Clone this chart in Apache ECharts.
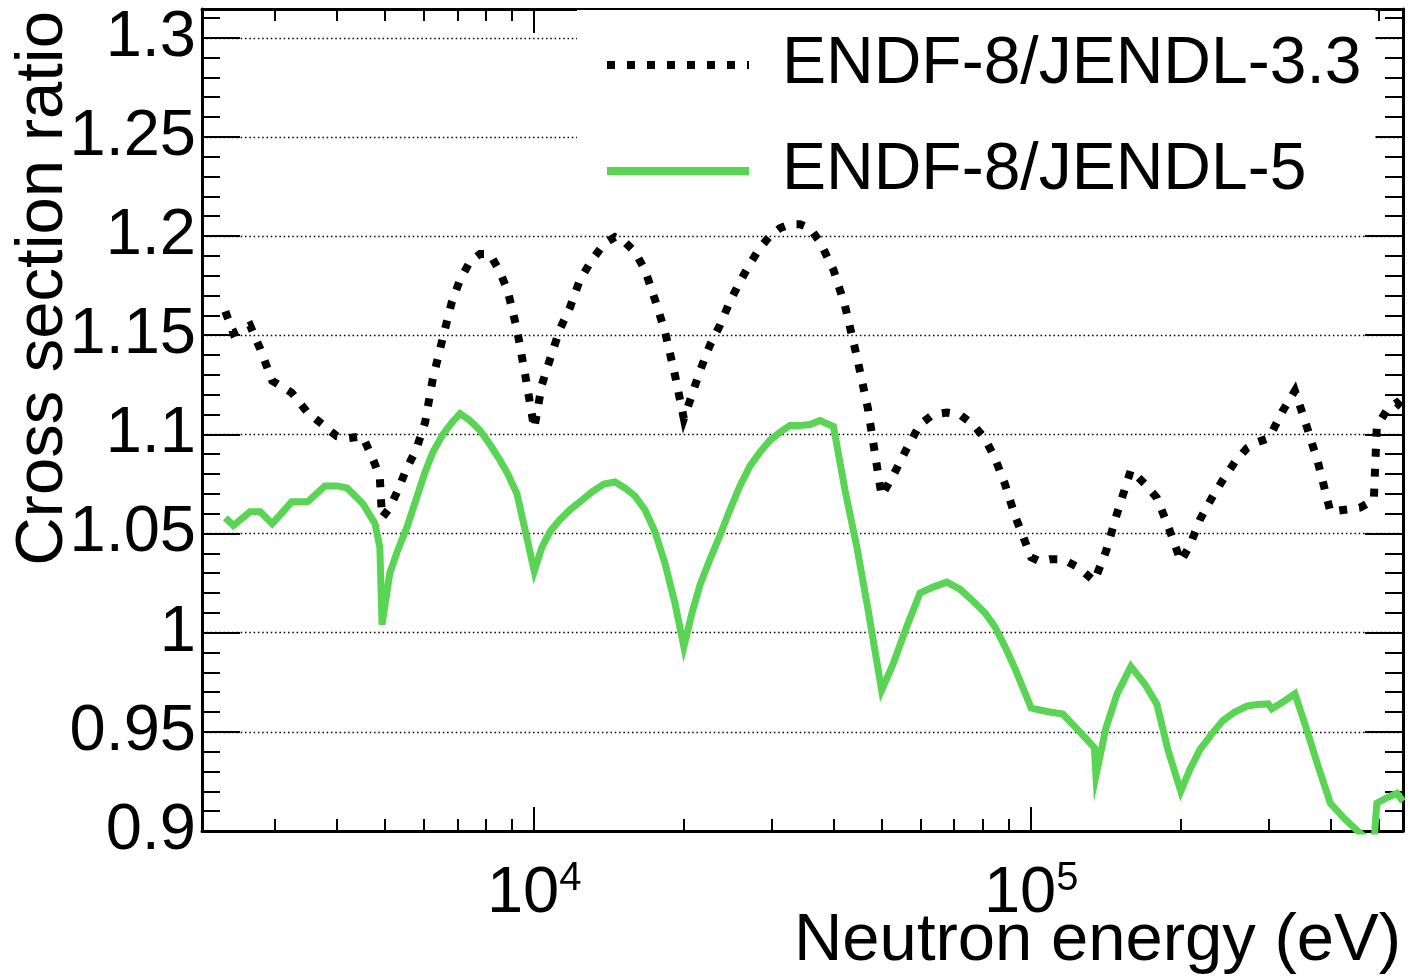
<!DOCTYPE html>
<html>
<head>
<meta charset="utf-8">
<script src="https://cdn.jsdelivr.net/npm/echarts@6/dist/echarts.min.js"></script>
<style>
html,body{margin:0;padding:0;background:#fff;}
#chart{width:1410px;height:978px;}
</style>
</head>
<body>
<div id="chart"></div>
<script>
// ---------------- data ----------------
const energy = [2390, 2480, 2680, 2810, 2970, 3250, 3500, 3790, 4010, 4200, 4520, 4780, 4890, 4940, 5120, 5320, 5540, 5780, 6030, 6250, 6550, 6830, 7090, 7420, 7780, 8140, 8530, 8850, 9230, 9620, 10000, 10360, 10760, 11260, 11800, 12360, 13070, 13810, 14530, 15220, 15940, 16700, 17490, 18320, 19190, 20000, 20770, 21550, 22570, 23640, 24760, 25940, 27160, 28450, 29800, 31220, 32700, 34250, 35870, 37570, 40000, 42190, 44600, 46930, 50000, 52700, 55960, 59730, 63430, 67670, 71880, 76340, 80690, 84530, 88540, 92740, 100000, 104100, 109000, 115800, 124200, 134000, 135000, 141400, 148800, 158700, 169400, 179000, 188400, 200000, 208600, 218500, 231000, 243000, 256900, 271600, 284500, 300000, 305000, 320900, 339300, 355400, 377500, 400000, 427800, 458600, 489200, 496000, 522000, 544200, 560000];

const ratioJendl33 = [1.162, 1.151, 1.155, 1.143, 1.127, 1.121, 1.111, 1.104, 1.099, 1.098, 1.099, 1.085, 1.078, 1.058, 1.063, 1.072, 1.083, 1.092, 1.106, 1.128, 1.149, 1.167, 1.178, 1.187, 1.191, 1.191, 1.182, 1.172, 1.153, 1.128, 1.103, 1.125, 1.138, 1.153, 1.164, 1.178, 1.188, 1.196, 1.1995, 1.197, 1.192, 1.183, 1.168, 1.152, 1.130, 1.108, 1.120, 1.132, 1.145, 1.155, 1.167, 1.177, 1.186, 1.194, 1.200, 1.204, 1.206, 1.206, 1.204, 1.197, 1.183, 1.165, 1.139, 1.113, 1.069, 1.079, 1.092, 1.105, 1.110, 1.111, 1.110, 1.105, 1.098, 1.088, 1.075, 1.059, 1.038, 1.036, 1.037, 1.037, 1.033, 1.026, 1.027, 1.041, 1.060, 1.082, 1.075, 1.068, 1.054, 1.036, 1.044, 1.057, 1.068, 1.077, 1.086, 1.093, 1.096, 1.098, 1.101, 1.112, 1.122, 1.107, 1.086, 1.061, 1.062, 1.063, 1.067, 1.104, 1.113, 1.116, 1.113];

const ratioJendl5 = [1.058, 1.054, 1.061, 1.061, 1.055, 1.066, 1.066, 1.074, 1.074, 1.073, 1.065, 1.055, 1.043, 1.004, 1.030, 1.042, 1.053, 1.067, 1.081, 1.091, 1.100, 1.106, 1.1105, 1.107, 1.102, 1.095, 1.087, 1.080, 1.070, 1.050, 1.031, 1.043, 1.051, 1.057, 1.062, 1.066, 1.071, 1.075, 1.076, 1.073, 1.069, 1.062, 1.051, 1.035, 1.015, 0.993, 1.010, 1.024, 1.037, 1.049, 1.062, 1.074, 1.084, 1.091, 1.097, 1.101, 1.1045, 1.1045, 1.105, 1.107, 1.104, 1.072, 1.043, 1.012, 0.971, 0.984, 1.002, 1.020, 1.023, 1.0255, 1.022, 1.016, 1.010, 1.003, 0.993, 0.982, 0.962, 0.961, 0.960, 0.959, 0.951, 0.942, 0.928, 0.952, 0.969, 0.983, 0.974, 0.964, 0.941, 0.920, 0.931, 0.941, 0.949, 0.9557, 0.960, 0.963, 0.9638, 0.9641, 0.9616, 0.965, 0.9692, 0.954, 0.933, 0.914, 0.906, 0.899, 0.893, 0.914, 0.917, 0.919, 0.915];

const seriesNames = ['ENDF-8/JENDL-3.3', 'ENDF-8/JENDL-5'];
const xRange = [2145, 560000];
const yRange = [0.9, 1.3145];
const yMajorStep = 0.05;
const yMinorStep = 0.01;
const xMinorTickValues = [3000, 4000, 5000, 6000, 7000, 8000, 9000, 20000, 30000, 40000, 50000, 60000, 70000, 80000, 90000, 200000, 300000, 400000, 500000];
const xTitle = 'Neutron energy (eV)';
const yTitle = 'Cross section ratio';

// ---------------- chart ----------------
const FONT = "'Liberation Sans', Arial, Helvetica, sans-serif";
const chart = echarts.init(document.getElementById('chart'), null, {renderer: 'canvas'});

const frameLine = {show: true, onZero: false, lineStyle: {color: '#000', width: 3}};
const tickStyle = {color: '#000', width: 2};
const noLine = {show: false, onZero: false};

function powLabel(v) {
  const e = Math.round(Math.log10(v));
  if (Math.abs(Math.pow(10, e) - v) / v < 1e-6) return '{b|10}{s|' + e + '}';
  return '';
}

const logMinorTicks = xMinorTickValues.map(v => Math.log10(v));

const option = {
  animation: false,
  backgroundColor: '#fff',
  grid: {left: 202, right: 7, top: 9, bottom: 147, containLabel: false},
  xAxis: [
    {
      type: 'log', logBase: 10, min: xRange[0], max: xRange[1], position: 'bottom',
      axisLine: frameLine,
      axisTick: {show: true, inside: true, length: 24, lineStyle: tickStyle},
      minorTick: {show: false}, splitLine: {show: false},
      axisLabel: {
        show: true, margin: 28, showMinLabel: false, showMaxLabel: false,
        formatter: powLabel,
        rich: {
          b: {fontSize: 65, fontFamily: FONT, color: '#000', lineHeight: 70},
          s: {fontSize: 40, fontFamily: FONT, color: '#000', lineHeight: 42, verticalAlign: 'top'}
        }
      }
    },
    {
      type: 'log', logBase: 10, min: xRange[0], max: xRange[1], position: 'top',
      axisLine: frameLine,
      axisTick: {show: true, inside: true, length: 24, lineStyle: tickStyle},
      minorTick: {show: false}, splitLine: {show: false}, axisLabel: {show: false}
    },
    {
      type: 'value', min: Math.log10(xRange[0]), max: Math.log10(xRange[1]), position: 'bottom',
      axisLine: noLine,
      axisTick: {show: true, inside: true, length: 12, lineStyle: tickStyle, customValues: logMinorTicks},
      splitLine: {show: false}, axisLabel: {show: false}
    },
    {
      type: 'value', min: Math.log10(xRange[0]), max: Math.log10(xRange[1]), position: 'top',
      axisLine: noLine,
      axisTick: {show: true, inside: true, length: 12, lineStyle: tickStyle, customValues: logMinorTicks},
      splitLine: {show: false}, axisLabel: {show: false}
    }
  ],
  yAxis: [
    {
      type: 'value', min: yRange[0], max: yRange[1], interval: yMajorStep, position: 'left',
      axisLine: frameLine,
      axisTick: {show: true, inside: true, length: 38, lineStyle: tickStyle},
      axisLabel: {
        show: true, fontSize: 65, fontFamily: FONT, color: '#000', margin: 6,
        showMaxLabel: false,
        formatter: v => String(+v.toFixed(3))
      },
      splitLine: {show: true, lineStyle: {color: '#000', width: 1.3, type: [1.5, 2.8]}}
    },
    {
      type: 'value', min: yRange[0], max: yRange[1], interval: yMinorStep, position: 'left',
      axisLine: noLine,
      axisTick: {show: true, inside: true, length: 18, lineStyle: tickStyle},
      axisLabel: {show: false}, splitLine: {show: false}
    },
    {
      type: 'value', min: yRange[0], max: yRange[1], interval: yMajorStep, position: 'right',
      axisLine: frameLine,
      axisTick: {show: true, inside: true, length: 38, lineStyle: tickStyle},
      axisLabel: {show: false}, splitLine: {show: false}
    },
    {
      type: 'value', min: yRange[0], max: yRange[1], interval: yMinorStep, position: 'right',
      axisLine: noLine,
      axisTick: {show: true, inside: true, length: 18, lineStyle: tickStyle},
      axisLabel: {show: false}, splitLine: {show: false}
    }
  ],
  legend: {
    show: true, orient: 'vertical', left: 577, top: 10,
    padding: [22, 14, 12, 26], itemGap: 40, itemWidth: 142, itemHeight: 8,
    backgroundColor: '#fff', selectedMode: false,
    itemStyle: {opacity: 0},
    lineStyle: {width: 8},
    textStyle: {fontSize: 66, fontFamily: FONT, color: '#000', lineHeight: 64, padding: [0, 0, 0, 28]},
    data: seriesNames
  },
  series: [
    {
      name: seriesNames[0], type: 'line', xAxisIndex: 0, yAxisIndex: 0,
      data: energy.map((e, i) => [e, ratioJendl33[i]]),
      showSymbol: false, symbol: 'none', clip: true, z: 3,
      itemStyle: {color: '#000'},
      lineStyle: {color: '#000', width: 8, type: [8, 12], cap: 'butt', join: 'miter'}
    },
    {
      name: seriesNames[1], type: 'line', xAxisIndex: 0, yAxisIndex: 0,
      data: energy.map((e, i) => [e, ratioJendl5[i]]),
      showSymbol: false, symbol: 'none', clip: true, z: 3,
      itemStyle: {color: '#59d454'},
      lineStyle: {color: '#59d454', width: 7, type: 'solid', join: 'miter'}
    }
  ],
  graphic: [
    {
      type: 'text', x: 1401, y: 942, z: 10,
      style: {text: xTitle, fontSize: 67, fontFamily: FONT, fill: '#000', align: 'right', verticalAlign: 'middle'}
    },
    {
      type: 'text', x: 43.5, y: 11, rotation: Math.PI / 2, z: 10,
      style: {text: yTitle, fontSize: 67, fontFamily: FONT, fill: '#000', align: 'right', verticalAlign: 'middle'}
    }
  ]
};

chart.setOption(option);
</script>
</body>
</html>
